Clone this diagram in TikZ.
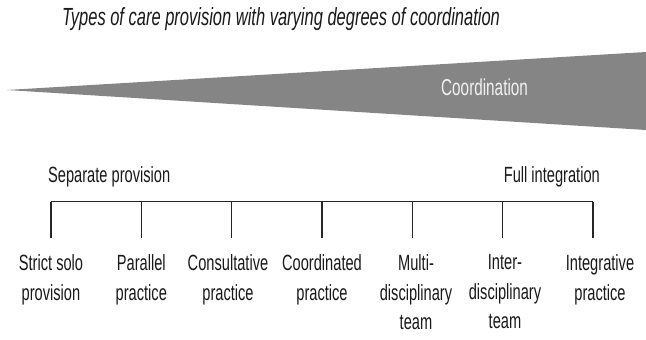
\documentclass[tikz,border=0pt]{standalone}
\usepackage{fontspec}
\setmainfont[FakeStretch=0.665]{Liberation Sans}
\begin{document}
\begin{tikzpicture}[x=1pt,y=-1pt,
  lbl/.style={font=\fontsize{22}{29.5}\selectfont, align=center, anchor=north, inner sep=0pt, text=black!90},
  toplbl/.style={font=\fontsize{22}{29}\selectfont, inner sep=0pt, text=black!90},
  bar/.style={line width=1.8pt, black!85},
  tick/.style={line width=1.3pt, black!85}]
\useasboundingbox (0,0) rectangle (646,340);
% title
\node[font=\fontsize{24.8}{27}\selectfont\itshape, anchor=base, inner sep=0pt, text=black!90] (title) at (281,25) {Types of care provision with varying degrees of coordination};
% wedge
\coordinate (tip) at (7,90);
\coordinate (tr) at (646,52);
\coordinate (br) at (646,130);
\fill[black!48] (tip) -- (tr) -- (br) -- cycle;
\node[font=\fontsize{23}{25}\selectfont, text=white!95!black, anchor=base west, inner sep=0pt] (coord) at (441,95.5) {Coordination};
% top labels
\node[toplbl, anchor=base west] (sep) at (48,182) {Separate provision};
\node[toplbl, anchor=base east] (full) at (600,182) {Full integration};
% bar
\foreach \i/\x in {1/51,2/141.3,3/231.7,4/322,5/412.3,6/502.7,7/593} {
  \coordinate (t\i) at (\x,201.5);
  \coordinate (b\i) at (\x,238);
}
\draw[bar] (t1) -- (t7);
\foreach \i in {1,...,7} { \draw[tick] (t\i) -- (b\i); }
% bottom labels
\node[lbl] (l1) at (51,254.5) {Strict solo\\provision};
\node[lbl] (l2) at (141.3,254.5) {Parallel\\practice};
\node[lbl] (l3) at (228,254.5) {Consultative\\practice};
\node[lbl] (l4) at (322,254.5) {Coordinated\\practice};
\node[lbl] (l5) at (416,254.5) {Multi-\\disciplinary\\team};
\node[lbl] (l6) at (505,254.5) {Inter-\\disciplinary\\team};
\node[lbl] (l7) at (600,254.5) {Integrative\\practice};
\end{tikzpicture}
\end{document}
